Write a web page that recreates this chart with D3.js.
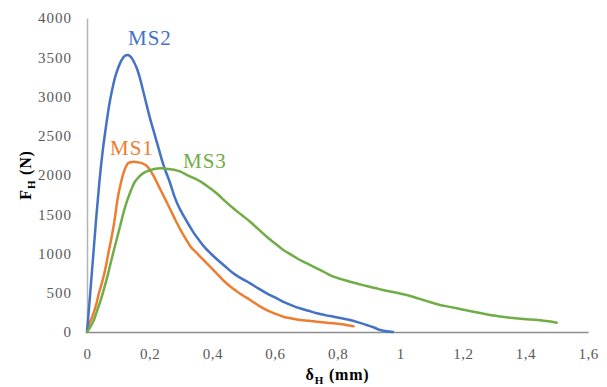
<!DOCTYPE html>
<html>
<head>
<meta charset="utf-8">
<script src="https://cdn.jsdelivr.net/npm/d3@7"></script>
<style>
  html, body { margin: 0; padding: 0; background: #ffffff; }
  svg { display: block; }
</style>
</head>
<body>
<script>
// ---- data ----
const seriesNames = ["MS1", "MS2", "MS3"];
const seriesColors = ["#ED7D31", "#4472C4", "#70AD47"];

const ms1X = [0,0.005,0.017,0.03,0.038,0.05,0.06,0.07,0.081,0.09,0.097,0.108,0.117,0.124,0.135,0.15,0.165,0.177,0.193,0.205,0.214,0.225,0.235,0.25,0.267,0.283,0.299,0.315,0.331,0.347,0.363,0.39,0.414,0.44,0.467,0.494,0.521,0.547,0.574,0.6,0.627,0.654,0.68,0.707,0.734,0.76,0.787,0.82,0.851];
const ms1Y = [0,80,195,360,493,660,832,1040,1257,1480,1682,1894,2030,2106,2160,2170,2160,2149,2106,2040,1979,1890,1809,1690,1554,1420,1299,1190,1087,1020,955,845,747,640,550,475,408,340,280,235,195,172,153,142,131,120,110,95,72];

const ms2X = [0,0.01,0.02,0.03,0.04,0.05,0.06,0.07,0.08,0.09,0.1,0.11,0.12,0.13,0.14,0.15,0.16,0.17,0.18,0.19,0.2,0.21,0.22,0.23,0.24,0.25,0.262,0.27,0.278,0.29,0.31,0.326,0.342,0.358,0.374,0.39,0.406,0.44,0.467,0.494,0.521,0.547,0.574,0.6,0.627,0.654,0.68,0.707,0.734,0.76,0.787,0.813,0.84,0.867,0.893,0.915,0.936,0.955,0.977];
const ms2Y = [0,480,980,1480,1930,2300,2600,2870,3080,3250,3370,3460,3515,3530,3505,3440,3350,3220,3060,2900,2740,2600,2460,2320,2180,2060,1936,1840,1740,1620,1469,1360,1257,1170,1087,1020,959,840,747,680,620,555,493,440,385,340,302,270,238,215,195,175,153,122,89,60,25,10,0];

const ms3X = [0,0.01,0.022,0.033,0.044,0.055,0.065,0.075,0.086,0.097,0.108,0.118,0.129,0.14,0.15,0.16,0.172,0.187,0.203,0.218,0.235,0.25,0.267,0.283,0.299,0.315,0.331,0.347,0.363,0.39,0.414,0.44,0.467,0.494,0.521,0.547,0.574,0.6,0.627,0.654,0.68,0.707,0.734,0.76,0.787,0.813,0.84,0.867,0.893,0.92,0.946,0.973,1.0,1.021,1.048,1.074,1.1,1.127,1.154,1.181,1.207,1.234,1.26,1.287,1.313,1.34,1.367,1.394,1.42,1.447,1.474,1.5];
const ms3Y = [0,60,153,280,408,560,705,870,1045,1215,1385,1540,1682,1800,1894,1950,2000,2040,2064,2080,2085,2080,2072,2062,2042,2010,1979,1950,1915,1840,1767,1670,1576,1490,1405,1310,1214,1130,1045,980,917,865,811,758,705,673,641,612,585,560,535,512,490,471,440,408,376,344,323,302,280,259,238,217,202,187,176,166,158,150,136,119];

const xTicks = [0, 0.2, 0.4, 0.6, 0.8, 1, 1.2, 1.4, 1.6];
const yTicks = [0, 500, 1000, 1500, 2000, 2500, 3000, 3500, 4000];

// ---- chart ----
const W = 607, H = 387;
const svg = d3.select("body").append("svg").attr("width", W).attr("height", H);

const x = d3.scaleLinear().domain([0, 1.6]).range([87, 588]);
const y = d3.scaleLinear().domain([0, 4000]).range([332, 18]);

const serif = "'Liberation Serif', 'DejaVu Serif', serif";
const loc = d3.formatLocale({decimal: ",", thousands: "", grouping: [3], currency: ["", ""]});
const fmtX = d => loc.format("~g")(d);

// x axis
const gx = svg.append("g").attr("transform", `translate(0,${y(0)})`)
  .call(d3.axisBottom(x).tickValues(xTicks).tickSize(0).tickPadding(16).tickFormat(fmtX));
gx.select(".domain").attr("stroke", "#8c8c8c").attr("stroke-width", 1.5);
gx.selectAll("text").attr("font-family", serif).attr("font-size", 15)
  .attr("fill", "#595959").attr("letter-spacing", "0.5px");

// y axis
const gy = svg.append("g").attr("transform", `translate(${x(0)},0)`)
  .call(d3.axisLeft(y).tickValues(yTicks).tickSize(0).tickPadding(15).tickFormat(d3.format("d")));
gy.select(".domain").attr("stroke", "#b4b4b4").attr("stroke-width", 1.5);
gy.selectAll("text").attr("font-family", serif).attr("font-size", 15)
  .attr("fill", "#595959").attr("letter-spacing", "1px");

// lines
const seriesX = [ms1X, ms2X, ms3X];
const seriesY = [ms1Y, ms2Y, ms3Y];
const line = d3.line().x(d => x(d[0])).y(d => y(d[1])).curve(d3.curveMonotoneX);
seriesNames.forEach((name, i) => {
  const pts = seriesX[i].map((v, j) => [v, seriesY[i][j]]);
  svg.append("path").datum(pts)
    .attr("d", line)
    .attr("fill", "none")
    .attr("stroke", seriesColors[i])
    .attr("stroke-width", 2.5)
    .attr("stroke-linejoin", "round")
    .attr("stroke-linecap", "round");
});

// series labels
const labelPos = [[110, 155], [128, 45], [183, 168]];
seriesNames.forEach((name, i) => {
  svg.append("text")
    .attr("x", labelPos[i][0]).attr("y", labelPos[i][1])
    .attr("font-family", serif).attr("font-size", 21)
    .attr("letter-spacing", "1px")
    .attr("fill", seriesColors[i])
    .text(name);
});

// axis titles
const xt = svg.append("text")
  .attr("x", (x(0) + x(1.6)) / 2).attr("y", 380)
  .attr("text-anchor", "middle")
  .attr("font-family", serif).attr("font-size", 16).attr("font-weight", "bold")
  .attr("letter-spacing", "0.8px")
  .attr("fill", "#000");
xt.append("tspan").text("δ");
xt.append("tspan").attr("font-size", 11).attr("dy", 4).text("H");
xt.append("tspan").attr("dy", -4).text(" (mm)");

const yt = svg.append("text")
  .attr("transform", `translate(31,${(y(0) + y(4000)) / 2}) rotate(-90)`)
  .attr("text-anchor", "middle")
  .attr("font-family", serif).attr("font-size", 16).attr("font-weight", "bold")
  .attr("letter-spacing", "0.8px")
  .attr("fill", "#000");
yt.append("tspan").text("F");
yt.append("tspan").attr("font-size", 11).attr("dy", 4).text("H");
yt.append("tspan").attr("dy", -4).text(" (N)");
</script>
</body>
</html>
